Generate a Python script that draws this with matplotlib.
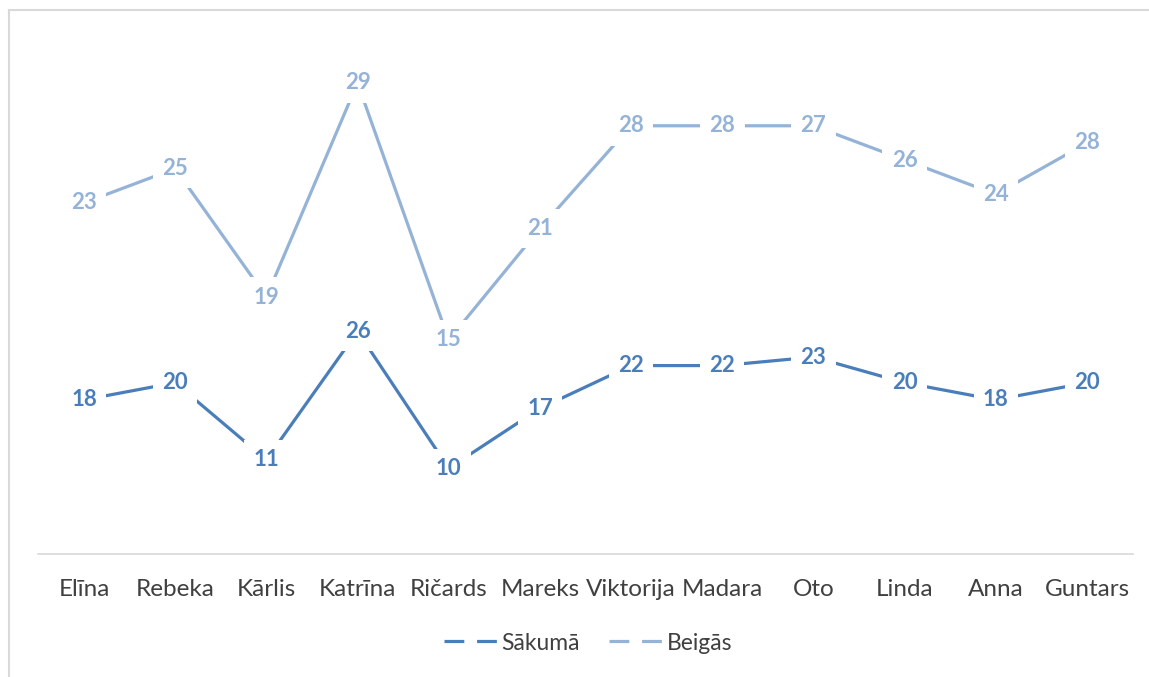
import numpy as np
import matplotlib.pyplot as plt
from matplotlib.lines import Line2D

plt.rcParams['font.family'] = ['Lato', 'DejaVu Sans']

names = ["Elīna", "Rebeka", "Kārlis", "Katrīna", "Ričards", "Mareks",
         "Viktorija", "Madara", "Oto", "Linda", "Anna", "Guntars"]
sakuma = [18, 20, 11, 26, 10, 17, 22, 22, 23, 20, 18, 20]
beigas = [23, 25, 19, 29, 15, 21, 28, 28, 27, 26, 24, 28]
series_names = ["Sākumā", "Beigās"]
colors = ["#4a7ebb", "#95b3d7"]

# stacked line chart: second series sits on top of the first
stacked = np.cumsum(np.array([sakuma, beigas]), axis=0)

fig = plt.figure(figsize=(11.49, 6.77), dpi=100)
ax = fig.add_axes([38.4/1149, 1-554/677, (1132.6-38.4)/1149, (554-23)/677])

x = np.arange(len(names))
for k, (vals, shown) in enumerate(zip(stacked, [sakuma, beigas])):
    ax.plot(x, vals, color=colors[k], lw=2.3, solid_capstyle='butt', zorder=2)
    for xi, yi, s in zip(x, vals, shown):
        ax.text(xi, yi, str(s), ha='center', va='center', fontsize=16,
                fontweight='bold', color=colors[k], zorder=3,
                bbox=dict(boxstyle='square,pad=0.42', fc='white', ec='none'))

ax.set_xlim(-0.5, len(names) - 0.5)
ax.set_ylim(0, 62)
ax.set_xticks(x)
ax.set_xticklabels(names, fontsize=17.5, color='#404040')
ax.tick_params(axis='x', length=0, pad=18)
ax.set_yticks([])
for side in ['top', 'right', 'left']:
    ax.spines[side].set_visible(False)
ax.spines['bottom'].set_color('#d9d9d9')
ax.spines['bottom'].set_linewidth(1.2)

handles = [Line2D([], [], color=c, lw=2.3, dashes=(6.2, 4.0)) for c in colors]
fig.legend(handles, series_names, loc='center', bbox_to_anchor=(588/1149, 1-643/677),
           ncol=2, frameon=False, fontsize=16.5, handlelength=2.35, handletextpad=0.15,
           columnspacing=1.3, labelcolor='#404040')

# chart border (left and top edges visible in the crop)
fig.add_artist(Line2D([9/1149, 9/1149], [0, 1-10/677], color='#d9d9d9', lw=1.5))
fig.add_artist(Line2D([9/1149, 1], [1-10/677, 1-10/677], color='#d9d9d9', lw=1.5))

fig.savefig('out.png', dpi=100)
